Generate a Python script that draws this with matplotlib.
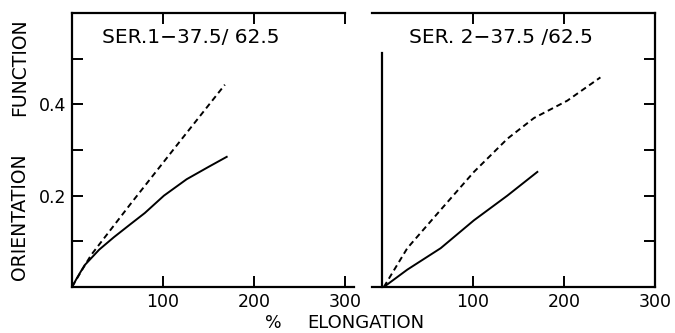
import matplotlib
matplotlib.use("Agg")
import matplotlib.pyplot as plt

# Data
s1_solid_x = [0, 5, 10, 14, 30, 46, 64.5, 80, 101, 126, 150, 170]
s1_solid_y = [0, 0.018, 0.035, 0.048, 0.082, 0.109, 0.138, 0.162, 0.20, 0.236, 0.263, 0.285]
s1_dash_x = [0, 10, 21, 64, 119, 168]
s1_dash_y = [0, 0.034, 0.07, 0.181, 0.32, 0.443]

s2_solid_x = [2, 27.8, 64.5, 101, 137.7, 170.7]
s2_solid_y = [0, 0.038, 0.085, 0.146, 0.20, 0.252]
s2_dash_x = [2, 27.8, 64.5, 101, 138, 167, 203.6, 240]
s2_dash_y = [0, 0.085, 0.169, 0.252, 0.325, 0.37, 0.408, 0.459]

x_ticks = [100, 200, 300]
y_ticks = [0.1, 0.2, 0.3, 0.4, 0.5]
y_labels = ["", "0.2", "", "0.4", ""]
titles = ["SER.1\u221237.5/ 62.5", "SER. 2\u221237.5 /62.5"]

fig = plt.figure(figsize=(6.75, 3.33), dpi=100)
ax1 = fig.add_axes([72/675, 1-287/333, 273/675, 274/333])
ax2 = fig.add_axes([382/675, 1-287/333, 273/675, 274/333])

lw = 1.4
for ax in (ax1, ax2):
    ax.set_xlim(0, 300)
    ax.set_ylim(0, 0.6)
    for sp in ax.spines.values():
        sp.set_linewidth(1.6)
    ax.tick_params(direction="in", length=8, width=1.4, labelsize=12.5,
                   pad=4)

# Left panel
ax1.plot(s1_solid_x, s1_solid_y, color="black", lw=lw)
ax1.plot(s1_dash_x, s1_dash_y, color="black", lw=lw, ls=(0, (3, 2)))
ax1.spines["right"].set_visible(False)
ax1.spines["bottom"].set_bounds(0, 310)
ax1.set_xticks(x_ticks)
ax1.set_yticks(y_ticks)
ax1.set_yticklabels(y_labels)
ax1.tick_params(top=True, bottom=True, left=True, right=False)
ax1.text(0.11, 0.91, titles[0], transform=ax1.transAxes, fontsize=14.5,
         va="center", ha="left")

# Right panel
ax2.plot(s2_solid_x, s2_solid_y, color="black", lw=lw)
ax2.plot(s2_dash_x, s2_dash_y, color="black", lw=lw, ls=(0, (3, 2)))
ax2.spines["left"].set_bounds(0, 0.513)
ax2.spines["top"].set_bounds(-11, 300)
ax2.spines["bottom"].set_bounds(-11, 300)
ax2.set_xticks(x_ticks)
ax2.set_yticks(y_ticks)
ax2.tick_params(top=True, bottom=True, left=False, right=True,
                labelleft=False, labelright=False)
ax2.text(0.10, 0.91, titles[1], transform=ax2.transAxes, fontsize=14.5,
         va="center", ha="left")

fig.text(20/675, 1-217/333, "ORIENTATION", rotation=90, fontsize=13.5,
         ha="center", va="center")
fig.text(20/675, 1-67/333, "FUNCTION", rotation=90, fontsize=13.5,
         ha="center", va="center")
fig.text(273/675, 1-323/333, "%", fontsize=12.5, ha="center", va="center")
fig.text(307/675, 1-323/333, "ELONGATION", fontsize=13, ha="left",
         va="center")

fig.savefig("out.png", dpi=100)
